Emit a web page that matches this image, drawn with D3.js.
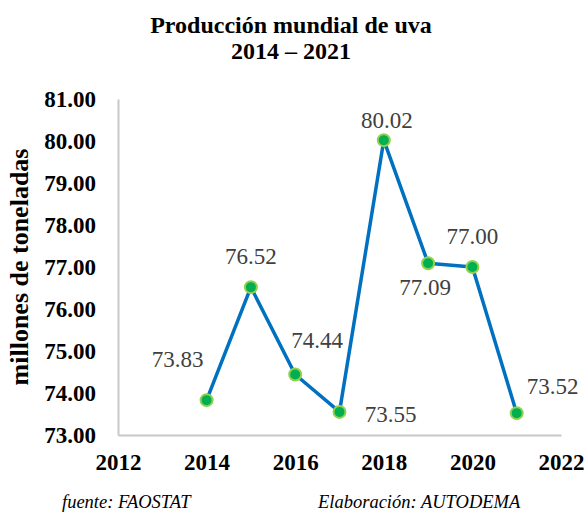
<!DOCTYPE html>
<html>
<head>
<meta charset="utf-8">
<script src="https://cdn.jsdelivr.net/npm/d3@7"></script>
<style>
  body { margin: 0; background: #fff; }
  svg text { font-family: "Liberation Serif", "Times New Roman", Times, serif; }
</style>
</head>
<body>
<svg id="chart"></svg>
<script>
// data
const years = [2014, 2015, 2016, 2017, 2018, 2019, 2020, 2021];
const production = [73.83, 76.52, 74.44, 73.55, 80.02, 77.09, 77.00, 73.52];
const xTicks = [2012, 2014, 2016, 2018, 2020, 2022];
const yTicks = [73, 74, 75, 76, 77, 78, 79, 80, 81];
// where each value label sits relative to its point
const labelPos = ["left", "above", "aboveRight", "right", "top", "below", "above", "farRight"];

const width = 587,
  height = 515;
const margin = { left: 118, right: 26, top: 99, bottom: 80 };
const serif = '"Liberation Serif", "Times New Roman", Times, serif';

const svg = d3.select("#chart")
  .attr("width", width)
  .attr("height", height);

const x = d3.scaleLinear()
  .domain([2012, 2022])
  .range([margin.left, width - margin.right]);

const y = d3.scaleLinear()
  .domain([73, 81])
  .range([height - margin.bottom, margin.top]);

// title
const title = svg.append("text")
  .attr("text-anchor", "middle")
  .style("font-family", serif)
  .style("font-size", "24px")
  .style("font-weight", "bold")
  .attr("fill", "#000");
title.append("tspan").attr("x", 291).attr("y", 33).text("Producción mundial de uva");
title.append("tspan").attr("x", 291).attr("y", 59).text("2014 – 2021");

// axes
const yAxis = svg.append("g")
  .attr("transform", `translate(${margin.left},0)`)
  .call(d3.axisLeft(y).tickValues(yTicks).tickSize(0).tickPadding(22).tickFormat(d3.format(".2f")));

const xAxis = svg.append("g")
  .attr("transform", `translate(0,${height - margin.bottom})`)
  .call(d3.axisBottom(x).tickValues(xTicks).tickSize(0).tickPadding(19).tickFormat(d3.format("d")));

[yAxis, xAxis].forEach(ax => {
  ax.attr("font-family", null);
  ax.select(".domain").attr("stroke", "#c8c8c8").attr("stroke-width", 2);
  ax.selectAll("text")
    .attr("fill", "#000")
    .style("font-family", serif)
    .style("font-size", "23px")
    .style("font-weight", "bold");
});

// y axis title
svg.append("text")
  .attr("transform", `translate(28,${(margin.top + height - margin.bottom) / 2}) rotate(-90)`)
  .attr("text-anchor", "middle")
  .style("font-family", serif)
  .style("font-size", "26px")
  .style("font-weight", "bold")
  .text("millones de toneladas");

// line
const points = years.map((yr, i) => ({ year: yr, value: production[i], pos: labelPos[i] }));

const line = d3.line()
  .x(d => x(d.year))
  .y(d => y(d.value));

svg.append("path")
  .datum(points)
  .attr("d", line)
  .attr("fill", "none")
  .attr("stroke", "#0070c0")
  .attr("stroke-width", 3.5)
  .attr("stroke-linejoin", "round");

svg.selectAll("circle.pt")
  .data(points)
  .enter()
  .append("circle")
  .attr("class", "pt")
  .attr("cx", d => x(d.year))
  .attr("cy", d => y(d.value))
  .attr("r", 6)
  .attr("fill", "#00b050")
  .attr("stroke", "#92d050")
  .attr("stroke-width", 2);

// value labels (offset of label centre/baseline from the point)
const offsets = {
  left: [-29, -33],
  above: [0, -23],
  top: [3, -12],
  aboveRight: [22, -27],
  right: [51, 10],
  below: [-3, 32],
  farRight: [36, -19]
};

svg.selectAll("text.val")
  .data(points)
  .enter()
  .append("text")
  .attr("class", "val")
  .attr("x", d => x(d.year) + offsets[d.pos][0])
  .attr("y", d => y(d.value) + offsets[d.pos][1])
  .attr("text-anchor", "middle")
  .attr("fill", "#404040")
  .style("font-family", serif)
  .style("font-size", "23px")
  .text(d => d.value.toFixed(2));

// footer
svg.append("text")
  .attr("x", 62).attr("y", 508)
  .style("font-family", serif)
  .style("font-size", "18.5px")
  .style("font-style", "italic")
  .text("fuente: FAOSTAT");

svg.append("text")
  .attr("x", 318).attr("y", 508)
  .style("font-family", serif)
  .style("font-size", "18.5px")
  .style("font-style", "italic")
  .text("Elaboración: AUTODEMA");
</script>
</body>
</html>
